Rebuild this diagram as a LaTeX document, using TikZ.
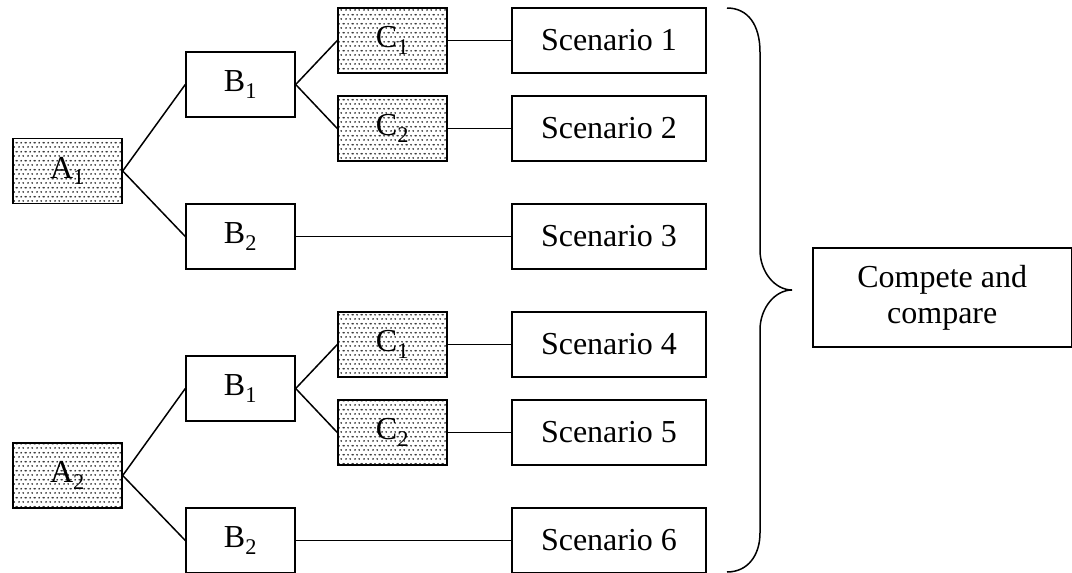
\documentclass[tikz,border=0pt]{standalone}
\usepackage{fontspec}
\setmainfont{Liberation Serif}
\usetikzlibrary{patterns}
\pgfdeclarepatternformonly{sparsedots}{\pgfpointorigin}{\pgfpoint{8.6pt}{8.6pt}}{\pgfpoint{8.6pt}{8.6pt}}{%
  \pgfpathcircle{\pgfpoint{2.15pt}{2.15pt}}{0.95pt}%
  \pgfpathcircle{\pgfpoint{6.45pt}{2.15pt}}{0.95pt}%
  \pgfpathcircle{\pgfpoint{4.3pt}{6.45pt}}{0.95pt}%
  \pgfpathcircle{\pgfpoint{8.6pt}{6.45pt}}{0.95pt}%
  \pgfpathcircle{\pgfpoint{0pt}{6.45pt}}{0.95pt}%
  \pgfusepath{fill}}
\tikzset{
  box/.style={draw=black, line width=1.4pt, minimum width=109pt, minimum height=65pt, inner sep=0pt, font=\fontsize{32}{36}\selectfont},
  dotbox/.style={box, pattern=sparsedots, pattern color=black!85},
  scen/.style={box, minimum width=194pt},
  link/.style={line width=1.5pt},
}
\begin{document}
\begin{tikzpicture}[x=1pt, y=-1pt]
\useasboundingbox (0,0) rectangle (1072,573);
% upper tree
\node[dotbox] (A1) at (67.5,171) {A\textsubscript{1}};
\node[box] (B1u) at (240.5,84.5) {B\textsubscript{1}};
\node[box] (B2u) at (240.5,236.5) {B\textsubscript{2}};
\node[dotbox] (C1u) at (392.5,40.5) {C\textsubscript{1}};
\node[dotbox] (C2u) at (392.5,128.5) {C\textsubscript{2}};
\node[scen] (S1) at (609,40.5) {Scenario 1};
\node[scen] (S2) at (609,128.5) {Scenario 2};
\node[scen] (S3) at (609,236.5) {Scenario 3};
% lower tree
\node[dotbox] (A2) at (67.5,475.5) {A\textsubscript{2}};
\node[box] (B1l) at (240.5,388.5) {B\textsubscript{1}};
\node[box] (B2l) at (240.5,540.5) {B\textsubscript{2}};
\node[dotbox] (C1l) at (392.5,344.5) {C\textsubscript{1}};
\node[dotbox] (C2l) at (392.5,432.5) {C\textsubscript{2}};
\node[scen] (S4) at (609,344.5) {Scenario 4};
\node[scen] (S5) at (609,432.5) {Scenario 5};
\node[scen] (S6) at (609,540.5) {Scenario 6};
% compare box
\node[box, minimum width=258.5pt, minimum height=99pt, align=center] (CC) at (942.25,297.5) {Compete and\\compare};
% connectors
\draw[link] (A1.east) -- (B1u.west);
\draw[link] (A1.east) -- (B2u.west);
\draw[link] (B1u.east) -- (C1u.west);
\draw[link] (B1u.east) -- (C2u.west);
\draw[link] (C1u.east) -- (S1.west);
\draw[link] (C2u.east) -- (S2.west);
\draw[link] (B2u.east) -- (S3.west);
\draw[link] (A2.east) -- (B1l.west);
\draw[link] (A2.east) -- (B2l.west);
\draw[link] (B1l.east) -- (C1l.west);
\draw[link] (B1l.east) -- (C2l.west);
\draw[link] (C1l.east) -- (S4.west);
\draw[link] (C2l.east) -- (S5.west);
\draw[link] (B2l.east) -- (S6.west);
% brace
\draw[link] (727,8) .. controls (748,8) and (760,25) .. (760,52) -- (760,250)
  .. controls (760,272) and (775,290) .. (792,290)
  .. controls (775,290) and (760,308) .. (760,330) -- (760,533)
  .. controls (760,555) and (748,572) .. (727,572);
\end{tikzpicture}
\end{document}
